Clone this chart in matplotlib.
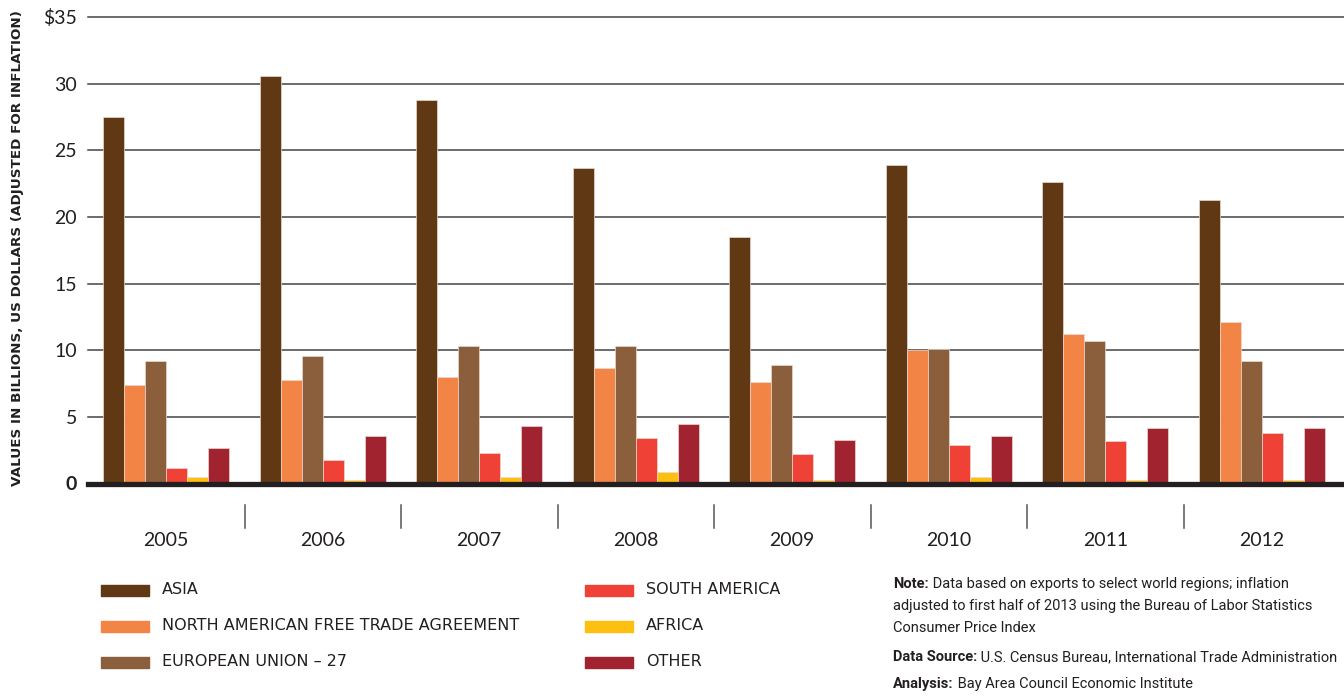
import matplotlib
matplotlib.use("Agg")
import matplotlib.pyplot as plt
import matplotlib.transforms as mtransforms
from matplotlib.patches import Rectangle
import numpy as np

# ---- data (billions of US dollars, inflation adjusted) ----
years = ["2005", "2006", "2007", "2008", "2009", "2010", "2011", "2012"]
asia = [27.5, 30.6, 28.8, 23.7, 18.5, 23.9, 22.6, 21.3]
nafta = [7.4, 7.8, 8.0, 8.7, 7.6, 10.0, 11.2, 12.1]
eu27 = [9.2, 9.6, 10.3, 10.3, 8.9, 10.1, 10.7, 9.2]
south_america = [1.2, 1.8, 2.3, 3.4, 2.2, 2.9, 3.2, 3.8]
africa = [0.5, 0.3, 0.5, 0.9, 0.3, 0.5, 0.3, 0.3]
other = [2.7, 3.6, 4.3, 4.5, 3.3, 3.6, 4.2, 4.2]

series_names = ["ASIA", "NORTH AMERICAN FREE TRADE AGREEMENT", "EUROPEAN UNION \u2013 27",
                "SOUTH AMERICA", "AFRICA", "OTHER"]
series_values = [asia, nafta, eu27, south_america, africa, other]
series_colors = ["#603813", "#F28445", "#8B5E3C", "#EF4136", "#FDC010", "#A1232F"]

y_ticks = [0, 5, 10, 15, 20, 25, 30, 35]
y_ticklabels = ["0", "5", "10", "15", "20", "25", "30", "$35"]

TEXT = "#231f20"
FONT = ["Lato", "DejaVu Sans"]
WIDE_FONT = ["DejaVu Sans"]
NOTE_FONT = ["Liberation Sans Narrow", "Roboto", "DejaVu Sans"]
plt.rcParams["font.family"] = FONT

W, H = 1344, 696
fig = plt.figure(figsize=(W / 100, H / 100), dpi=100)

# axes placed in pixel units
left_px, right_px, top_px, zero_px = 88, 1344, 17, 483.5
ax = fig.add_axes([left_px / W, (H - zero_px) / H, (right_px - left_px) / W,
                   (zero_px - top_px) / H])

group_px = 156.5
n_groups = len(years)
x = np.arange(n_groups)
bar_w = 0.134
ax.set_xlim(-0.5, -0.5 + (right_px - left_px) / group_px)
ax.set_ylim(0, 35)

for i, (vals, col) in enumerate(zip(series_values, series_colors)):
    ax.bar(x + (i - 2.5) * bar_w, vals, width=bar_w, color=col,
           edgecolor="#e9d9d0", linewidth=0.5, zorder=3)

# horizontal grid
for t in y_ticks[1:]:
    ax.axhline(t, color="#444444", linewidth=1.1, zorder=1, clip_on=False)
# heavy baseline
ax.axhline(0, color=TEXT, linewidth=3.8, zorder=4, clip_on=False)

for s in ax.spines.values():
    s.set_visible(False)
ax.set_xticks([])
ax.set_yticks(y_ticks)
ax.set_yticklabels(y_ticklabels)
ax.tick_params(axis="y", length=0, pad=8, labelsize=14, labelcolor=TEXT)
for lab in ax.get_yticklabels():
    if lab.get_text() == "0":
        lab.set_fontweight("bold")

# year labels and group separators below the baseline
trans = mtransforms.blended_transform_factory(ax.transData, ax.transAxes)
ax_h = zero_px - top_px
for k in range(n_groups):
    ax.text(x[k], (zero_px - 541) / ax_h, years[k], transform=trans,
            ha="center", va="center", fontsize=14, color=TEXT)
for k in range(n_groups - 1):
    ax.plot([k + 0.5, k + 0.5], [(zero_px - 505) / ax_h, (zero_px - 528) / ax_h],
            transform=trans, color="#555555", linewidth=1.1, clip_on=False)

# y axis title
fig.text(18 / W, 1 - 248 / H,
         "VALUES IN BILLIONS, US DOLLARS (ADJUSTED FOR INFLATION)",
         rotation=90, ha="center", va="center", fontsize=9.7,
         fontweight="bold", color=TEXT, family=WIDE_FONT)

# legend
legend_pos = [(101, 590), (101, 626), (101, 662), (585, 590), (585, 626), (585, 662)]
for (lx, ly), name, col in zip(legend_pos, series_names, series_colors):
    fig.patches.append(Rectangle((lx / W, 1 - (ly + 5.5) / H), 48 / W, 11 / H,
                                 transform=fig.transFigure, color=col))
    fig.text((lx + 61) / W, 1 - ly / H, name, ha="left", va="center",
             fontsize=11.5, color=TEXT, family=WIDE_FONT)

# notes
nx = 893 / W
note_lines = [
    (584, "Note:", " Data based on exports to select world regions; inflation"),
    (606, "", "adjusted to first half of 2013 using the Bureau of Labor Statistics"),
    (628, "", "Consumer Price Index"),
    (657, "Data Source:", " U.S. Census Bureau, International Trade Administration"),
    (684, "Analysis:", " Bay Area Council Economic Institute"),
]
renderer = fig.canvas.get_renderer()
for ly, head, body in note_lines:
    xpos = nx
    if head:
        t = fig.text(xpos, 1 - ly / H, head, ha="left", va="center", fontsize=10.5,
                     fontweight="bold", color=TEXT, family=NOTE_FONT)
        bb = t.get_window_extent(renderer=renderer)
        xpos = bb.x1 / W
    fig.text(xpos, 1 - ly / H, body, ha="left", va="center", fontsize=10.5,
             color=TEXT, family=NOTE_FONT)

fig.savefig("out.png", dpi=100)
